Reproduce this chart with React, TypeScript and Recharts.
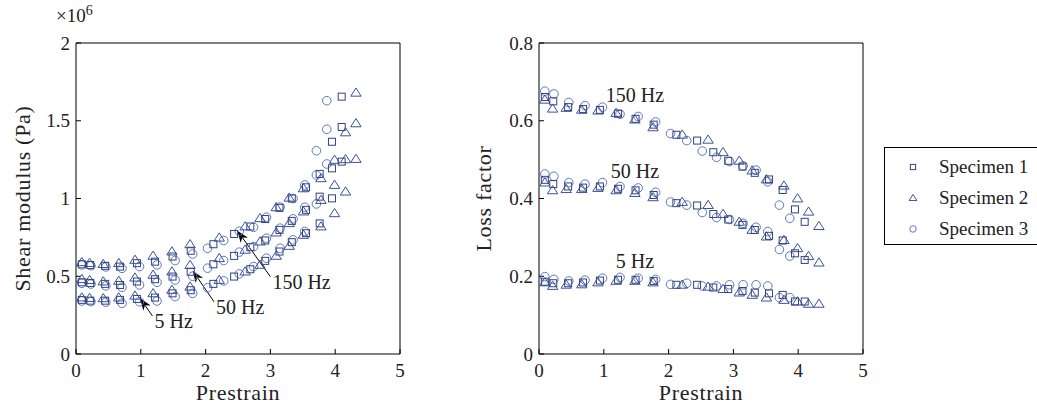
import { ReferenceDot, ReferenceLine, Scatter, ScatterChart, XAxis, YAxis } from "recharts";

// prestrain steps per specimen
const prestrain1 = [0.09, 0.22, 0.45, 0.68, 0.94, 1.22, 1.49, 1.77, 2.12, 2.44, 2.69, 2.92, 3.14, 3.33, 3.55, 3.76, 3.95, 4.1];
const prestrain2 = [0.09, 0.21, 0.42, 0.66, 0.91, 1.19, 1.48, 1.76, 2.21, 2.61, 2.84, 3.09, 3.29, 3.51, 3.78, 3.99, 4.16, 4.32];
const prestrain3 = [0.09, 0.23, 0.46, 0.71, 0.98, 1.25, 1.53, 1.8, 2.03, 2.28, 2.52, 2.74, 2.94, 3.15, 3.35, 3.53, 3.71, 3.87];

// shear modulus, x10^6 Pa
const modulus1_5 = [0.348, 0.343, 0.343, 0.348, 0.354, 0.363, 0.39, 0.41, 0.451, 0.498, 0.545, 0.599, 0.659, 0.719, 0.777, 0.84, 1.001, 1.237];
const modulus1_50 = [0.461, 0.457, 0.451, 0.444, 0.466, 0.481, 0.498, 0.529, 0.577, 0.631, 0.687, 0.73, 0.798, 0.856, 0.927, 1.012, 1.194, 1.46];
const modulus1_150 = [0.577, 0.572, 0.567, 0.562, 0.584, 0.594, 0.627, 0.664, 0.706, 0.772, 0.82, 0.868, 0.94, 1.0, 1.072, 1.158, 1.365, 1.655];
const modulus2_5 = [0.363, 0.36, 0.358, 0.363, 0.375, 0.39, 0.412, 0.433, 0.476, 0.53, 0.573, 0.631, 0.695, 0.766, 0.82, 0.905, 1.044, 1.254];
const modulus2_50 = [0.481, 0.475, 0.466, 0.47, 0.491, 0.509, 0.53, 0.572, 0.616, 0.67, 0.723, 0.781, 0.841, 0.916, 0.99, 1.087, 1.252, 1.483];
const modulus2_150 = [0.59, 0.585, 0.578, 0.584, 0.605, 0.631, 0.659, 0.705, 0.748, 0.82, 0.873, 0.943, 1.005, 1.065, 1.13, 1.248, 1.425, 1.68];
const modulus3_5 = [0.341, 0.337, 0.333, 0.326, 0.336, 0.341, 0.369, 0.39, 0.426, 0.47, 0.515, 0.562, 0.616, 0.68, 0.734, 0.788, 0.965, 1.222];
const modulus3_50 = [0.455, 0.45, 0.438, 0.429, 0.444, 0.461, 0.476, 0.5, 0.552, 0.601, 0.655, 0.691, 0.745, 0.809, 0.869, 0.944, 1.151, 1.445];
const modulus3_150 = [0.573, 0.568, 0.56, 0.551, 0.562, 0.573, 0.601, 0.643, 0.68, 0.73, 0.79, 0.815, 0.88, 0.945, 1.0, 1.087, 1.307, 1.629];

// loss factor
const loss1_5 = [0.186, 0.182, 0.182, 0.184, 0.189, 0.191, 0.191, 0.188, 0.178, 0.178, 0.171, 0.167, 0.162, 0.158, 0.156, 0.152, 0.135, 0.135];
const loss1_50 = [0.448, 0.437, 0.431, 0.428, 0.431, 0.425, 0.421, 0.409, 0.388, 0.382, 0.36, 0.346, 0.332, 0.319, 0.304, 0.292, 0.259, 0.242];
const loss1_150 = [0.661, 0.65, 0.635, 0.63, 0.628, 0.618, 0.605, 0.59, 0.564, 0.549, 0.519, 0.497, 0.482, 0.466, 0.449, 0.422, 0.372, 0.34];
const loss2_5 = [0.184, 0.175, 0.178, 0.179, 0.184, 0.188, 0.188, 0.184, 0.178, 0.173, 0.167, 0.158, 0.152, 0.145, 0.139, 0.135, 0.129, 0.129];
const loss2_50 = [0.441, 0.421, 0.424, 0.424, 0.427, 0.421, 0.414, 0.403, 0.391, 0.383, 0.36, 0.34, 0.319, 0.302, 0.293, 0.272, 0.252, 0.235];
const loss2_150 = [0.654, 0.631, 0.633, 0.628, 0.626, 0.62, 0.603, 0.583, 0.564, 0.551, 0.519, 0.497, 0.472, 0.449, 0.433, 0.4, 0.366, 0.329];
const loss3_5 = [0.199, 0.192, 0.188, 0.19, 0.195, 0.197, 0.195, 0.192, 0.179, 0.182, 0.175, 0.175, 0.178, 0.178, 0.178, 0.175, 0.145, 0.145];
const loss3_50 = [0.463, 0.457, 0.441, 0.437, 0.441, 0.431, 0.427, 0.416, 0.391, 0.383, 0.364, 0.351, 0.346, 0.336, 0.326, 0.315, 0.269, 0.252];
const loss3_150 = [0.676, 0.669, 0.647, 0.639, 0.635, 0.617, 0.611, 0.597, 0.567, 0.549, 0.522, 0.506, 0.495, 0.484, 0.473, 0.443, 0.383, 0.349];

const xTicks = [0, 1, 2, 3, 4, 5];
const modulusTicks = [0, 0.5, 1, 1.5, 2];
const lossTicks = [0, 0.2, 0.4, 0.6, 0.8];
const specimenNames = ["Specimen 1", "Specimen 2", "Specimen 3"];

// annotation labels and arrows (data coords)
const modulusNotes = [
  { text: "5 Hz", from: { x: 1.18, y: 0.244 }, to: { x: 0.99, y: 0.358 } },
  { text: "50 Hz", from: { x: 2.13, y: 0.336 }, to: { x: 1.8, y: 0.536 } },
  { text: "150 Hz", from: { x: 3.0, y: 0.497 }, to: { x: 2.49, y: 0.793 } }
];
const lossNotes = [
  { text: "150 Hz", x: 1.48, y: 0.664 },
  { text: "50 Hz", x: 1.48, y: 0.468 },
  { text: "5 Hz", x: 1.48, y: 0.237 }
];

const FONT = "'Liberation Serif', 'Times New Roman', serif";
const colors = ["#33437f", "#3b519a", "#5b78c6"];

const zip = (xs: number[], ys: number[]) => xs.map((x, i) => ({ x, y: ys[i] }));

const modulusSeries = [
  { sp: 2, data: zip(prestrain3, modulus3_5) },
  { sp: 2, data: zip(prestrain3, modulus3_50) },
  { sp: 2, data: zip(prestrain3, modulus3_150) },
  { sp: 1, data: zip(prestrain2, modulus2_5) },
  { sp: 1, data: zip(prestrain2, modulus2_50) },
  { sp: 1, data: zip(prestrain2, modulus2_150) },
  { sp: 0, data: zip(prestrain1, modulus1_5) },
  { sp: 0, data: zip(prestrain1, modulus1_50) },
  { sp: 0, data: zip(prestrain1, modulus1_150) }
];

const lossSeries = [
  { sp: 2, data: zip(prestrain3, loss3_5) },
  { sp: 2, data: zip(prestrain3, loss3_50) },
  { sp: 2, data: zip(prestrain3, loss3_150) },
  { sp: 1, data: zip(prestrain2, loss2_5) },
  { sp: 1, data: zip(prestrain2, loss2_50) },
  { sp: 1, data: zip(prestrain2, loss2_150) },
  { sp: 0, data: zip(prestrain1, loss1_5) },
  { sp: 0, data: zip(prestrain1, loss1_50) },
  { sp: 0, data: zip(prestrain1, loss1_150) }
];

const Marker = ({ sp, cx, cy, s = 1 }: { sp: number; cx: number; cy: number; s?: number }) => {
  const c = colors[sp];
  if (sp === 0) return <rect x={cx - 3.5 * s} y={cy - 3.5 * s} width={7 * s} height={7 * s} fill="none" stroke={c} strokeWidth={1} />;
  if (sp === 1)
    return (
      <polygon
        points={`${cx},${cy - 4.8 * s} ${cx - 5.2 * s},${cy + 3.4 * s} ${cx + 5.2 * s},${cy + 3.4 * s}`}
        fill="none"
        stroke={c}
        strokeWidth={1}
      />
    );
  return <circle cx={cx} cy={cy} r={4.3 * s} fill="none" stroke={c} strokeWidth={1} />;
};

const shapeFor = (sp: number) => (p: any) => <Marker sp={sp} cx={p.cx} cy={p.cy} />;

const Arrow = (p: any) => {
  const { x1, y1, x2, y2 } = p;
  const ang = Math.atan2(y2 - y1, x2 - x1);
  const len = 12;
  const w = 4.5;
  const bx = x2 - len * Math.cos(ang);
  const by = y2 - len * Math.sin(ang);
  const nx = x2 - len * 0.7 * Math.cos(ang);
  const ny = y2 - len * 0.7 * Math.sin(ang);
  const px = -Math.sin(ang) * w;
  const py = Math.cos(ang) * w;
  return (
    <g>
      <line x1={x1} y1={y1} x2={nx} y2={ny} stroke="#000" strokeWidth={1} />
      <polygon points={`${x2},${y2} ${bx + px},${by + py} ${nx},${ny} ${bx - px},${by - py}`} fill="#000" />
    </g>
  );
};

const tickStyle = { fontFamily: FONT, fontSize: 19, fill: "#222" };
const labelStyle = { fontFamily: FONT, fontSize: 22, fill: "#222", textAnchor: "middle" as const, letterSpacing: 0.7 };

const fmtModulus = (v: number) => String(v);
const fmtLoss = (v: number) => (v === 0 ? "0" : v.toFixed(1));

const frameAxes = (yDomain: number[], yTicks: number[]) => [
  <XAxis key="top" xAxisId="top" orientation="top" type="number" dataKey="x" domain={[0, 5]} ticks={xTicks} tick={false} tickSize={-5} height={1} axisLine={{ stroke: "#000" }} tickLine={{ stroke: "#000" }} />,
  <YAxis key="right" yAxisId="right" orientation="right" type="number" dataKey="y" domain={yDomain} ticks={yTicks} tick={false} tickSize={-5} width={1} axisLine={{ stroke: "#000" }} tickLine={{ stroke: "#000" }} />
];

export default function App() {
  return (
    <div style={{ position: "absolute", left: 0, top: 0, width: 1037, height: 410, background: "#fff", overflow: "hidden", fontFamily: FONT }}>
      <div style={{ position: "absolute", left: 56, top: 3, fontSize: 19, color: "#222" }}>
        ×10<sup style={{ fontSize: 14 }}>6</sup>
      </div>

      <div style={{ position: "absolute", left: 0, top: 0 }}>
        <ScatterChart width={420} height={410} margin={{ top: 42, right: 19, bottom: 55, left: 75 }}>
          <XAxis
            type="number"
            dataKey="x"
            domain={[0, 5]}
            ticks={xTicks}
            tickSize={-5}
            tickMargin={15}
            height={1}
            tick={tickStyle}
            axisLine={{ stroke: "#000" }}
            tickLine={{ stroke: "#000" }}
            label={{ value: "Prestrain", position: "bottom", offset: 29, style: labelStyle }}
          />
          <YAxis
            type="number"
            dataKey="y"
            domain={[0, 2]}
            ticks={modulusTicks}
            tickFormatter={fmtModulus}
            tickSize={-5}
            tickMargin={11}
            width={1}
            tick={tickStyle}
            axisLine={{ stroke: "#000" }}
            tickLine={{ stroke: "#000" }}
            label={{ value: "Shear modulus (Pa)", angle: -90, position: "left", offset: 53, style: labelStyle }}
          />
          {frameAxes([0, 2], modulusTicks)}
          {modulusSeries.map((s, i) => (
            <Scatter key={i} data={s.data} shape={shapeFor(s.sp)} isAnimationActive={false} />
          ))}
          {modulusNotes.map((n) => (
            <ReferenceLine key={n.text} segment={[n.from, n.to]} shape={Arrow} ifOverflow="visible" />
          ))}
          {modulusNotes.map((n) => (
            <ReferenceDot
              key={n.text + "t"}
              x={n.from.x}
              y={n.from.y}
              ifOverflow="visible"
              shape={(p: any) => (
                <text x={p.cx + 2} y={p.cy + 12} fontFamily={FONT} fontSize={20} fill="#222">
                  {n.text}
                </text>
              )}
            />
          ))}
        </ScatterChart>
      </div>

      <div style={{ position: "absolute", left: 430, top: 0 }}>
        <ScatterChart width={450} height={410} margin={{ top: 42, right: 16, bottom: 55, left: 108 }}>
          <XAxis
            type="number"
            dataKey="x"
            domain={[0, 5]}
            ticks={xTicks}
            tickSize={-5}
            tickMargin={15}
            height={1}
            tick={tickStyle}
            axisLine={{ stroke: "#000" }}
            tickLine={{ stroke: "#000" }}
            label={{ value: "Prestrain", position: "bottom", offset: 29, style: labelStyle }}
          />
          <YAxis
            type="number"
            dataKey="y"
            domain={[0, 0.8]}
            ticks={lossTicks}
            tickFormatter={fmtLoss}
            tickSize={-5}
            tickMargin={11}
            width={1}
            tick={tickStyle}
            axisLine={{ stroke: "#000" }}
            tickLine={{ stroke: "#000" }}
            label={{ value: "Loss factor", angle: -90, position: "left", offset: 55, style: labelStyle }}
          />
          {frameAxes([0, 0.8], lossTicks)}
          {lossSeries.map((s, i) => (
            <Scatter key={i} data={s.data} shape={shapeFor(s.sp)} isAnimationActive={false} />
          ))}
          {lossNotes.map((n) => (
            <ReferenceDot
              key={n.text}
              x={n.x}
              y={n.y}
              ifOverflow="visible"
              shape={(p: any) => (
                <text x={p.cx} y={p.cy + 6} textAnchor="middle" fontFamily={FONT} fontSize={20} fill="#222">
                  {n.text}
                </text>
              )}
            />
          ))}
        </ScatterChart>
      </div>

      <div
        style={{
          position: "absolute",
          left: 884,
          top: 147,
          width: 170,
          height: 96,
          border: "1px solid #000",
          background: "#fff"
        }}
      >
        {specimenNames.map((name, i) => (
          <div key={name} style={{ position: "absolute", left: 20, top: 6 + i * 31, height: 26, display: "flex", alignItems: "center" }}>
            <svg width={16} height={16} style={{ marginRight: 18 }}>
              <Marker sp={i} cx={8} cy={8} s={0.75} />
            </svg>
            <span style={{ fontSize: 19, color: "#222" }}>{name}</span>
          </div>
        ))}
      </div>
    </div>
  );
}
